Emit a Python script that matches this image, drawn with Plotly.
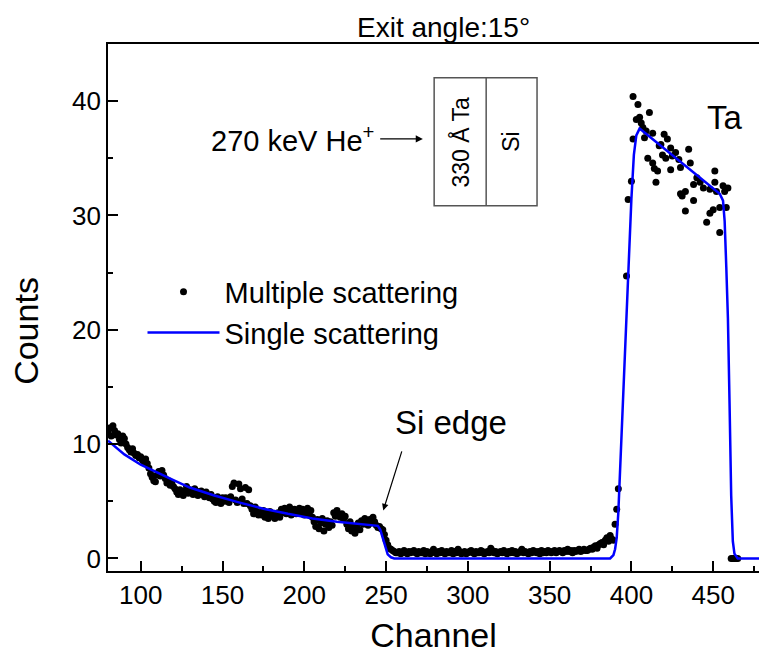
import plotly.graph_objects as go

# ---------------- data ----------------
# Multiple scattering (black dots): dense channels 80..392
ms_low_channel = list(range(80, 393))
ms_low_counts = [
    # 80-92
    11.0, 11.4, 10.7, 11.6, 11.2, 10.8, 10.9, 10.4, 10.1, 10.7, 10.5, 10.0, 9.7,
    # 93-104
    9.5, 9.3, 9.6, 9.2, 9.0, 9.1, 8.8, 8.9, 8.6, 8.4, 8.7, 8.3,
    # 105-120
    7.9, 7.4, 7.1, 6.8, 6.7, 7.3, 7.6, 7.2, 7.7, 7.3, 7.0, 6.6, 6.8, 6.4, 6.6, 6.3,
    # 121-141
    6.1, 5.8, 5.6, 6.0, 5.7, 5.5, 5.9, 6.3, 5.7, 6.0, 5.8, 5.6, 6.1, 5.9, 5.5,
    5.7, 5.9, 5.6, 5.4, 5.8, 5.5,
    # 142-151
    5.3, 5.6, 5.2, 5.0, 4.9, 5.4, 5.1, 4.8, 5.3, 5.0,
    # 152-165
    5.3, 5.0, 4.9, 5.4, 6.3, 6.6, 5.1, 4.9, 6.5, 6.1, 5.2, 4.8, 6.2, 4.8,
    # 166-172
    6.0, 4.6, 4.3, 3.9, 4.5, 4.1, 3.8,
    # 173-185
    4.0, 3.8, 4.2, 3.6, 3.9, 3.5, 4.1, 3.7, 3.9, 3.5, 3.8, 4.0, 3.6,
    # 186-204
    4.3, 4.0, 4.4, 3.9, 4.2, 4.5, 3.8, 4.1, 4.3, 3.9, 4.2, 4.4, 4.0, 4.3, 3.8,
    4.1, 4.4, 3.9, 4.2,
    # 205-217
    3.6, 3.2, 2.8, 3.4, 2.6, 3.1, 3.5, 2.4, 3.0, 3.3, 2.7, 3.2, 2.9,
    # 218-225
    4.0, 3.7, 4.2, 3.8, 3.6, 3.9, 3.4, 3.7,
    # 226-234
    3.0, 2.6, 3.2, 2.4, 2.8, 2.2, 2.7, 3.1, 2.5,
    # 235-243
    3.3, 3.0, 3.5, 3.2, 2.9, 3.4, 3.1, 3.6, 3.2,
    # 244-248
    2.9, 2.7, 2.8, 2.6, 2.5,
    # 249-256
    2.1, 1.6, 1.2, 0.9, 0.8, 0.7, 0.6, 0.5,
    # 257-372
    0.5, 0.6, 0.4, 0.5, 0.7, 0.5, 0.4, 0.6, 0.5, 0.6,
    0.7, 0.5, 0.4, 0.6, 0.5, 0.5, 0.7, 0.4, 0.6, 0.5,
    0.4, 0.6, 0.8, 0.5, 0.4, 0.6, 0.5, 0.7, 0.5, 0.4,
    0.6, 0.5, 0.5, 0.7, 0.4, 0.6, 0.5, 0.8, 0.6, 0.4,
    0.5, 0.6, 0.4, 0.5, 0.6, 0.7, 0.5, 0.4, 0.6, 0.5,
    0.5, 0.7, 0.6, 0.4, 0.5, 0.6, 0.5, 0.9, 0.7, 0.5,
    0.6, 0.4, 0.5, 0.6, 0.5, 0.7, 0.5, 0.4, 0.6, 0.5,
    0.7, 0.5, 0.6, 0.4, 0.5, 0.6, 0.8, 0.5, 0.6, 0.5,
    0.4, 0.6, 0.5, 0.7, 0.6, 0.5, 0.6, 0.4, 0.7, 0.5,
    0.6, 0.5, 0.7, 0.6, 0.5, 0.6, 0.7, 0.5, 0.6, 0.7,
    0.6, 0.5, 0.7, 0.6, 0.8, 0.6, 0.7, 0.5, 0.7, 0.6,
    0.7, 0.8, 0.6, 0.7, 0.8, 0.7,
    # 373-392
    0.7, 0.8, 0.9, 0.8, 1.0, 1.1, 0.9, 1.2, 1.3, 1.4, 1.2, 1.6, 1.8, 1.5, 2.0,
    1.7, 1.6, 3.0, 4.3, 6.1,
]

# Multiple scattering: Ta peak region (sparser points)
ms_ta_channel = [397, 398, 400, 401, 401, 403, 404, 405, 406, 407, 408, 409, 410, 411, 413,
                 413, 414, 415, 416, 417, 418, 419, 420, 421, 422, 424, 424, 425, 427, 429,
                 430, 430, 431, 433, 433, 435, 436, 438, 438, 440, 442, 444, 446, 448, 448,
                 450, 451, 451, 452, 454, 454, 456, 457, 458, 459, 461, 462, 463, 464, 465]
ms_ta_counts = [24.7, 31.4, 33.0, 36.7, 40.4, 38.4, 39.7, 38.6, 38.1, 37.7, 36.8, 37.4, 35.0, 39.0, 37.2,
                34.6, 34.1, 32.9, 33.9, 36.1, 36.2, 35.3, 37.1, 35.0, 36.7, 35.9, 34.0, 35.2, 35.5, 34.9,
                34.2, 31.9, 31.7, 32.1, 30.4, 35.8, 34.6, 32.7, 31.3, 33.3, 32.9, 32.4, 29.4, 32.3, 30.2,
                30.5, 33.9, 32.9, 32.1, 30.7, 28.5, 32.6, 32.1, 30.7, 32.4, 0, 0, 0, 0, 0]

# Single scattering (blue line)
ss_channel = [80, 90, 100, 110, 120, 130, 145, 160, 175, 190, 205, 220, 235, 245,
              246.5, 248, 249.5, 251, 253, 255,
              387, 389, 390, 391, 392, 394, 396, 398, 400, 401.5, 403, 405,
              454, 456, 457, 458, 459, 460, 461, 462, 463, 465, 478]
ss_counts = [10.3, 9.1, 8.2, 7.5, 6.85, 6.2, 5.5, 4.9, 4.35, 3.9, 3.5, 3.2, 3.0, 2.85,
             2.5, 1.7, 0.9, 0.35, 0.1, 0,
             0, 0.3, 0.8, 1.8, 4.0, 11.0, 19.0, 25.5, 31.5, 35.3, 37.0, 37.6,
             31.9, 31.3, 29.5, 25.5, 21.0, 13.5, 5.5, 1.5, 0.4, 0, 0]

x_range = [80, 478]
y_range = [-1.1, 45]
x_ticks = [100, 150, 200, 250, 300, 350, 400, 450]
y_ticks = [0, 10, 20, 30, 40]

FONT = "Arial, Liberation Sans, sans-serif"

fig = go.Figure()
fig.add_trace(go.Scatter(
    x=ms_low_channel + ms_ta_channel, y=ms_low_counts + ms_ta_counts,
    mode="markers", name="Multiple scattering",
    marker=dict(color="black", size=7),
))
fig.add_trace(go.Scatter(
    x=ss_channel, y=ss_counts, mode="lines", name="Single scattering",
    line=dict(color="#0000ff", width=2.5),
))

axis_common = dict(
    showline=True, linecolor="black", linewidth=1.8,
    ticks="inside", ticklen=10, tickwidth=1.6, tickcolor="black",
    showgrid=False, zeroline=False,
    tickfont=dict(family=FONT, size=26, color="black"),
)
fig.update_xaxes(
    range=x_range, tickvals=x_ticks, mirror=True,
    minor=dict(ticks="inside", ticklen=5, tickwidth=1.6, tickcolor="black", dtick=25, tick0=0, showgrid=False),
    title=dict(text="Channel", font=dict(family=FONT, size=34, color="black"), standoff=14),
    **axis_common,
)
fig.update_yaxes(
    range=y_range, tickvals=y_ticks, mirror=False,
    minor=dict(ticks="inside", ticklen=5, tickwidth=1.6, tickcolor="black", dtick=5, tick0=0, showgrid=False),
    **axis_common,
)

fig.update_layout(
    width=759, height=656,
    margin=dict(l=108, r=0, t=44, b=85),
    plot_bgcolor="white", paper_bgcolor="white",
    font=dict(family=FONT, color="black"),
    showlegend=True,
    legend=dict(
        x=0.053, y=0.578, xanchor="left", yanchor="top",
        font=dict(family=FONT, size=29, color="black"),
        bgcolor="rgba(0,0,0,0)", itemwidth=72, tracegroupgap=0,
    ),
)

# Rotated y axis title
fig.add_annotation(text="Counts", xref="paper", yref="paper", x=-0.125, y=0.455,
                   xanchor="center", yanchor="middle",
                   showarrow=False, textangle=-90,
                   font=dict(family=FONT, size=34, color="black"))
# Title
fig.add_annotation(text="Exit angle:15°", xref="paper", yref="paper", x=0.515, y=1.0,
                   yanchor="bottom", yshift=-1, showarrow=False,
                   font=dict(family=FONT, size=28, color="black"))

# Inset: beam arrow + sample sketch
fig.add_annotation(text="270 keV He<sup>+</sup>", x=244.0, y=36.7, xanchor="right",
                   showarrow=False, font=dict(family=FONT, size=29, color="black"))
fig.add_annotation(x=272.5, y=36.7, ax=245.5, ay=36.7, axref="x", ayref="y",
                   text="", showarrow=True, arrowhead=2, arrowsize=1.1, arrowwidth=1.3,
                   arrowcolor="black")
fig.add_shape(type="rect", x0=279.4, x1=342.3, y0=30.86, y1=42.04,
              line=dict(color="#555555", width=1.5))
fig.add_shape(type="line", x0=311.2, x1=311.2, y0=30.86, y1=42.04,
              line=dict(color="#555555", width=1.5))
fig.add_annotation(text="330 Å Ta", x=295.3, y=36.4, textangle=-90, showarrow=False,
                   font=dict(family=FONT, size=23, color="black"))
fig.add_annotation(text="Si", x=326.7, y=36.4, textangle=-90, showarrow=False,
                   font=dict(family=FONT, size=23, color="black"))

# Labels
fig.add_annotation(text="Ta", x=457.5, y=38.6, showarrow=False,
                   font=dict(family=FONT, size=33, color="black"))
fig.add_annotation(text="Si edge", x=254.0, y=11.9, xanchor="left", showarrow=False,
                   font=dict(family=FONT, size=33, color="black"))
fig.add_annotation(x=248.3, y=4.2, ax=259.9, ay=9.5, axref="x", ayref="y",
                   text="", showarrow=True, arrowhead=2, arrowsize=1.1, arrowwidth=1.2,
                   arrowcolor="black")

fig.write_html("out.html")
